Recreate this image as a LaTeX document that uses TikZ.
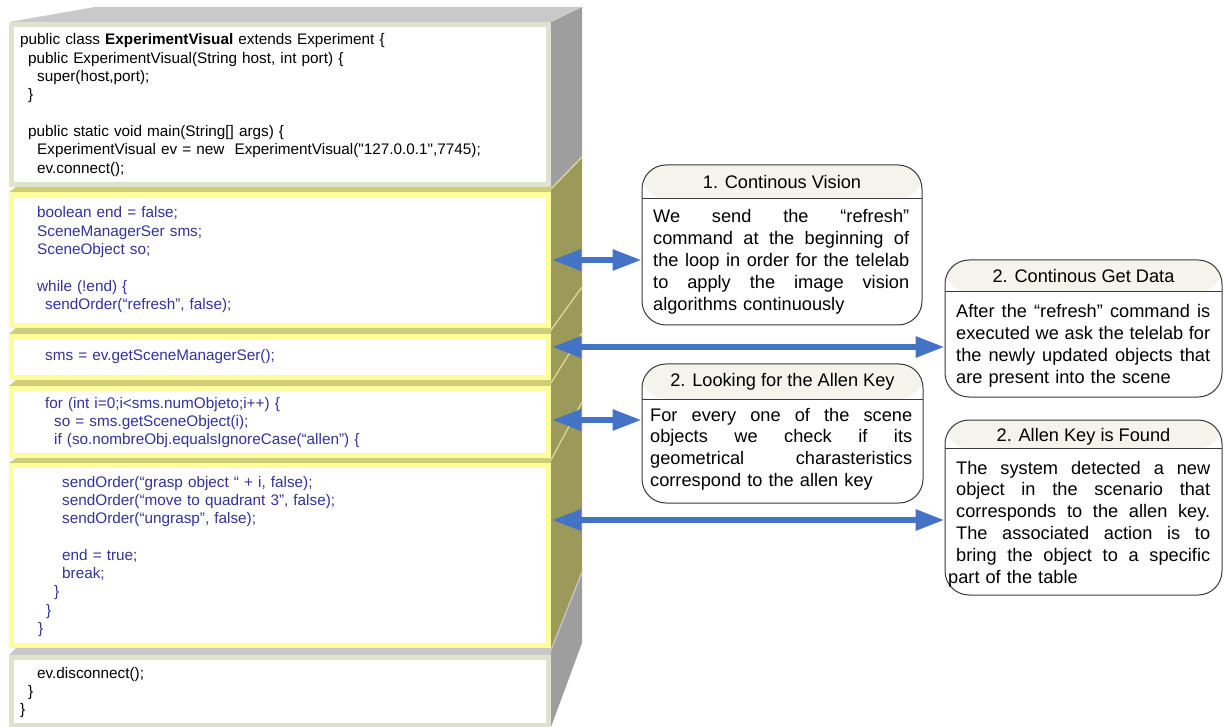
\documentclass[tikz,border=0pt]{standalone}
\usepackage{fontspec}
\setmainfont{Liberation Sans}[Ligatures=TeXOff]
\usetikzlibrary{arrows.meta}

\definecolor{codeblue}{RGB}{51,51,153}
\definecolor{frameGrey}{RGB}{222,226,206}
\definecolor{frameYel}{RGB}{255,255,153}
\definecolor{sideGrey}{RGB}{158,158,158}
\definecolor{topGrey}{RGB}{201,201,201}
\definecolor{sideOlive}{RGB}{156,154,90}
\definecolor{stripOlive}{RGB}{205,205,122}
\definecolor{stripGrey}{RGB}{200,200,200}
\definecolor{edgeYel}{RGB}{222,222,150}
\definecolor{arrowBlue}{RGB}{68,114,196}
\definecolor{boxLine}{RGB}{58,58,58}
\definecolor{titleBg}{RGB}{244,244,236}

% one justified line of a callout body, stretched to the given width
\newcommand{\jline}[2]{{\spaceskip=0pt\xspaceskip=0pt\makebox[#1][s]{#2}}}

\tikzset{
  code/.style={anchor=base west, inner sep=0pt, text width=520pt,
    font=\fontsize{15.3}{18.3}\selectfont},
  codeblue/.style={code, text=codeblue},
  frontG/.style={fill=white, draw=frameGrey, line width=5pt},
  frontY/.style={fill=white, draw=frameYel, line width=5pt},
  callbox/.style={draw=boxLine, line width=1pt, rounded corners=24pt, fill=white,
    inner sep=0pt,
    path picture={
      \fill[titleBg] (path picture bounding box.north west) rectangle
        ([yshift=-#1]path picture bounding box.north east);
      \draw[boxLine, line width=1pt] ([yshift=-#1]path picture bounding box.north west) --
        ([yshift=-#1]path picture bounding box.north east);}},
  ttl/.style={anchor=base, inner sep=0pt, font=\fontsize{18.2}{21.8}\selectfont},
  body/.style={anchor=base west, inner sep=0pt,
    font=\fontsize{18.2}{21.8}\selectfont},
  arr/.style={draw=arrowBlue, line width=6pt,
    {Triangle[length=29pt,width=20pt]}-{Triangle[length=29pt,width=20pt]}},
}

\begin{document}
\begin{tikzpicture}[x=1pt,y=-1pt]
\useasboundingbox (0,0) rectangle (1224,727);

% ---- right side face of the stack ----
\fill[sideGrey]  (551,22) -- (582,7) -- (582,157) -- (551,189) -- cycle;
\fill[sideOlive] (551,189) -- (582,157) -- (582,572) -- (551,650) -- cycle;
\fill[sideGrey]  (551,650) -- (582,572) -- (582,643) -- (551,727) -- cycle;
\draw[edgeYel, line width=1.2pt] (551,189) -- (582,157);
\draw[edgeYel, line width=1.2pt] (551,330) -- (582,287);
\draw[edgeYel, line width=1.2pt] (551,383) -- (582,333);
\draw[edgeYel, line width=1.2pt] (551,460) -- (582,402);
\draw[stripGrey, line width=1.2pt] (551,650) -- (582,572);

% ---- top face ----
\fill[topGrey] (9,22) -- (95,7) -- (582,7) -- (551,22) -- cycle;

% ---- visible top strips between the blocks ----
\fill[stripOlive] (9,192) -- (16,187) -- (551,187) -- (551,192) -- cycle;
\fill[stripOlive] (9,334) -- (16,328) -- (551,328) -- (551,334) -- cycle;
\fill[stripOlive] (9,386) -- (16,380) -- (551,380) -- (551,386) -- cycle;
\fill[stripOlive] (9,463) -- (16,458) -- (551,458) -- (551,463) -- cycle;
\fill[stripGrey]  (9,655) -- (16,648) -- (551,648) -- (551,655) -- cycle;

% ---- front faces ----
\path[frontG] (11.5,24.5)  rectangle (548.5,184.5);
\path[frontY] (11.5,194.5) rectangle (548.5,325.5);
\path[frontY] (11.5,336.5) rectangle (548.5,377.5);
\path[frontY] (11.5,388.5) rectangle (548.5,455.5);
\path[frontY] (11.5,465.5) rectangle (548.5,645.5);
\path[frontG] (11.5,657.5) rectangle (548.5,725.5);

% ---- code ----
\node[code] (b1) at (20,45) {\noindent public class \textbf{ExperimentVisual} extends Experiment \{\\
\hspace*{8pt}public ExperimentVisual(String host, int port) \{\\
\hspace*{17pt}super(host,port);\\
\hspace*{8pt}\}\\[18.3pt]
\hspace*{8pt}public static void main(String[] args) \{\\
\hspace*{17pt}ExperimentVisual ev = new\ \ ExperimentVisual("127.0.0.1",7745);\\
\hspace*{17pt}ev.connect();};

\node[codeblue] (b2) at (37,218) {\noindent boolean end = false;\\
SceneManagerSer sms;\\
SceneObject so;\\[18.3pt]
while (!end) \{\\
\hspace*{8pt}sendOrder(“refresh”, false);};

\node[codeblue] (b3) at (45,360) {\noindent sms = ev.getSceneManagerSer();};

\node[codeblue] (b4) at (45,408) {\noindent for (int i=0;i<sms.numObjeto;i++) \{\\
\hspace*{9pt}so = sms.getSceneObject(i);\\
\hspace*{9pt}if (so.nombreObj.equalsIgnoreCase(“allen”) \{};

\node[codeblue] (b5) at (38,487) {\noindent\hspace*{24pt}sendOrder(“grasp object “ + i, false);\\
\hspace*{24pt}sendOrder(“move to quadrant 3”, false);\\
\hspace*{24pt}sendOrder(“ungrasp”, false);\\[18.3pt]
\hspace*{24pt}end = true;\\
\hspace*{24pt}break;\\
\hspace*{16pt}\}\\
\hspace*{8pt}\}\\
\}};

\node[code] (b6) at (20,678) {\noindent\hspace*{17pt}ev.disconnect();\\
\hspace*{8pt}\}\\
\}};

% ---- callouts ----
\node[callbox=34pt, minimum width=280pt, minimum height=160pt] (c1) at (782,245) {};
\node[ttl] (c1t) at (782,188.5) {1. Continous Vision};
\node[body, text width=256pt] (c1b) at (653,223) {\noindent
\jline{256pt}{We send the “refresh”}\\
\jline{256pt}{command at the beginning of}\\
\jline{256pt}{the loop in order for the telelab}\\
\jline{256pt}{to apply the image vision}\\
algorithms continuously};

\node[callbox=32pt, minimum width=277pt, minimum height=137pt] (c2) at (1083.5,328.5) {};
\node[ttl] (c2t) at (1083.5,283) {2. Continous Get Data};
\node[body, text width=254pt] (c2b) at (956,318) {\noindent
\jline{254pt}{After the “refresh” command is}\\
\jline{254pt}{executed we ask the telelab for}\\
\jline{254pt}{the newly updated objects that}\\
are present into the scene};

\node[callbox=35pt, minimum width=281pt, minimum height=139pt] (c3) at (782.5,433.5) {};
\node[ttl] (c3t) at (782.5,387) {2. Looking for the Allen Key};
\node[body, text width=262pt] (c3b) at (650,421) {\noindent
\jline{262pt}{For every one of the scene}\\
\jline{262pt}{objects we check if its}\\
\jline{262pt}{geometrical charasteristics}\\
correspond to the allen key};

\node[callbox=28pt, minimum width=277pt, minimum height=175pt] (c4) at (1083.5,507.5) {};
\node[ttl] (c4t) at (1083.5,441) {2. Allen Key is Found};
\node[body, text width=254pt] (c4b) at (956,474) {\noindent
\jline{254pt}{The system detected a new}\\
\jline{254pt}{object in the scenario that}\\
\jline{254pt}{corresponds to the allen key.}\\
\jline{254pt}{The associated action is to}\\
\jline{254pt}{bring the object to a specific}\\
\hspace*{-8pt}part of the table};

% ---- connectors from the stack to the callouts ----
\coordinate (s1) at (552,260);
\coordinate (s2) at (552,347);
\coordinate (s3) at (552,420);
\coordinate (s4) at (552,520);
\draw[arr] (s1) -- (s1 -| c1.west);
\draw[arr] (s2) -- (s2 -| c2.west);
\draw[arr] (s3) -- (s3 -| c3.west);
\draw[arr] (s4) -- (s4 -| c4.west);
\end{tikzpicture}
\end{document}
